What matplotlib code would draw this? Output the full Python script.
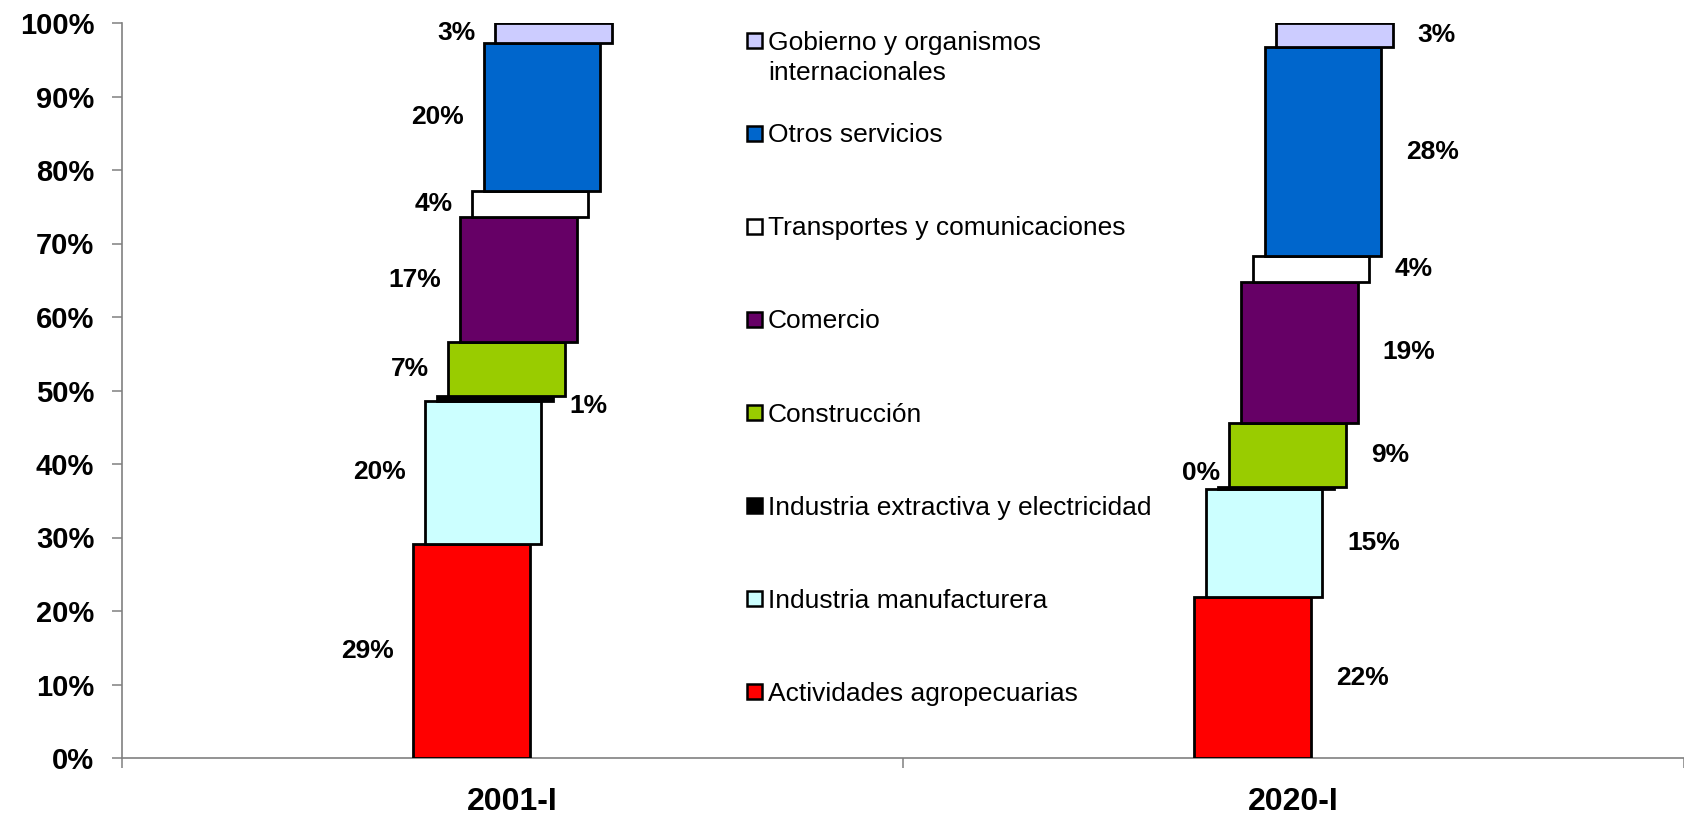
import numpy as np
import matplotlib as mpl
import matplotlib.pyplot as plt
from matplotlib.patches import Rectangle

mpl.rcParams['font.family'] = ['Liberation Sans', 'DejaVu Sans']

# data (share of each sector, %)
periods = ['2001-I', '2020-I']
sectors = ['Actividades agropecuarias', 'Industria manufacturera',
           'Industria extractiva y electricidad', 'Construcción', 'Comercio',
           'Transportes y comunicaciones', 'Otros servicios',
           'Gobierno y organismos\ninternacionales']
share_2001 = [29.1, 19.5, 0.6, 7.4, 17.0, 3.5, 20.2, 2.7]
share_2020 = [21.9, 14.7, 0.3, 8.7, 19.2, 3.5, 28.4, 3.3]
colors = ['#FF0000', '#CCFFFF', '#000000', '#99CC00', '#660066',
          '#FFFFFF', '#0066CC', '#CCCCFF']

W, H = 1684, 814
fig = plt.figure(figsize=(W / 100, H / 100), dpi=100)
ax = fig.add_axes([122 / W, 56 / H, 1 - 122 / W, (758 - 23) / H])

vals = np.array([share_2001, share_2020])
x = np.arange(len(periods))
n = len(sectors)
width = 0.149
shift = 0.015
bottom = np.zeros(len(periods))

for i in range(n):
    off = (i - (n - 1) / 2) * shift
    ax.bar(x + off, vals[:, i], width=width, bottom=bottom, color=colors[i],
           edgecolor='black', linewidth=2.0, zorder=3)
    for j in range(len(periods)):
        v = vals[j, i]
        mid = bottom[j] + v / 2
        left = x[j] + off - width / 2
        right = x[j] + off + width / 2
        txt = '{:.0f}%'.format(v)
        thin = v < 1.5
        if j == 0:
            if thin:
                ax.annotate(txt, (right, mid), xytext=(12, -5), textcoords='offset points',
                            ha='left', va='center', fontsize=19, fontweight='bold')
            else:
                ax.annotate(txt, (left, mid), xytext=(-14, 0), textcoords='offset points',
                            ha='right', va='center', fontsize=19, fontweight='bold')
        else:
            if thin:
                ax.annotate(txt, (left, mid), xytext=(2, 11), textcoords='offset points',
                            ha='right', va='center', fontsize=19, fontweight='bold')
            else:
                ax.annotate(txt, (right, mid), xytext=(18, 0), textcoords='offset points',
                            ha='left', va='center', fontsize=19, fontweight='bold')
    bottom += vals[:, i]

ax.set_ylim(0, 100)
ax.set_xlim(-0.5, 1.478)
ax.set_yticks(np.arange(0, 101, 10))
ax.set_yticklabels(['{}%'.format(t) for t in range(0, 101, 10)],
                   fontsize=21, fontweight='bold')
ax.set_xticks(x)
ax.set_xticklabels(periods, fontsize=23, fontweight='bold')
ax.set_xticks([-0.5, 0.5, 1.5], minor=True)
ax.tick_params(axis='x', which='major', length=0, pad=21)
ax.tick_params(axis='x', which='minor', length=7, width=1.1, color='#808080')
ax.tick_params(axis='y', length=7, width=1.1, color='#808080', pad=13)

for s in ['top', 'right']:
    ax.spines[s].set_visible(False)
for s in ['left', 'bottom']:
    ax.spines[s].set_color('#808080')
    ax.spines[s].set_linewidth(1.2)

# legend drawn by hand, top entry first
y0 = 40
step = 93
line_h = 30
for k, i in enumerate(range(n - 1, -1, -1)):
    yc = H - (y0 + k * step)
    fig.patches.append(Rectangle((747, yc - 7.5), 15, 15, transform=None,
                                 facecolor=colors[i], edgecolor='black',
                                 linewidth=1.8))
    extra = sectors[i].count('\n') * line_h
    fig.text(768 / W, (yc - 9.5 - extra) / H, sectors[i], fontsize=19, ha='left',
             va='baseline', linespacing=1.3)

fig.savefig('out.png', dpi=100)
